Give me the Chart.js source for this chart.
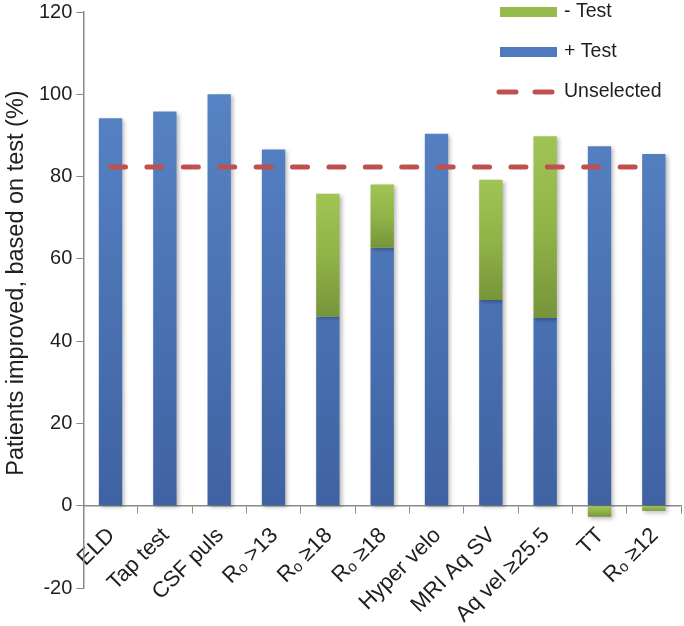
<!DOCTYPE html>
<html>
<head>
<meta charset="utf-8">
<script src="https://cdn.jsdelivr.net/npm/chart.js@4.4.0/dist/chart.umd.min.js"></script>
<style>
  body { margin: 0; background: #fff; }
  #wrap { width: 684px; height: 626px; }
</style>
</head>
<body>
<div id="wrap"><canvas id="chart"></canvas></div>
<script>
// values (percent of patients improved)
var categories = ['ELD', 'Tap test', 'CSF puls', 'Rₒ >13', 'Rₒ ≥18', 'Rₒ ≥18', 'Hyper velo', 'MRI Aq SV', 'Aq vel ≥25.5', 'TT', 'Rₒ ≥12'];
var plusTest = [94.2, 95.8, 100, 86.6, 46.0, 62.7, 90.4, 50.0, 45.6, 87.4, 85.5];
var minusTestFrom = [null, null, null, null, 46.0, 62.7, null, 50.0, 45.6, 0, 0];
var minusTestTo = [null, null, null, null, 75.8, 78.1, null, 79.2, 89.8, -2.7, -1.2];
var unselected = [82.3, 82.3, 82.3, 82.3, 82.3, 82.3, 82.3, 82.3, 82.3, 82.3, 82.3];
var yTitle = 'Patients improved, based on test (%)';

var minusTest = categories.map(function (c, i) {
  return minusTestFrom[i] === null ? null : [minusTestFrom[i], minusTestTo[i]];
});

var FONT = '"Liberation Sans", Arial, sans-serif';
var TEXT = '#1e1e1e';
var AXIS = '#8a8a8a';
var RED = 'rgb(192,80,77)';

function blueFill(c) {
  var chart = c.chart;
  if (!chart.chartArea) return 'rgb(79,123,190)';
  var y = chart.scales.y;
  var g = chart.ctx.createLinearGradient(0, y.getPixelForValue(100), 0, y.getPixelForValue(0));
  g.addColorStop(0, 'rgb(86,131,197)');
  g.addColorStop(1, 'rgb(63,98,162)');
  return g;
}

function greenFill(c) {
  var chart = c.chart;
  var raw = c.raw;
  if (!chart.chartArea || !raw) return 'rgb(146,180,74)';
  var y = chart.scales.y;
  var top = y.getPixelForValue(Math.max(raw[0], raw[1]));
  var bot = y.getPixelForValue(Math.min(raw[0], raw[1]));
  if (bot - top < 2) bot = top + 2;
  var g = chart.ctx.createLinearGradient(0, top, 0, bot);
  g.addColorStop(0, 'rgb(160,196,84)');
  g.addColorStop(0.5, 'rgb(145,180,73)');
  g.addColorStop(1, 'rgb(118,148,58)');
  return g;
}

// soft shadow under the bars only
var barShadow = {
  id: 'barShadow',
  beforeDatasetDraw: function (chart, args) {
    if (args.meta.type !== 'bar') return;
    var ctx = chart.ctx;
    ctx.save();
    ctx.shadowColor = 'rgba(0,0,0,0.28)';
    ctx.shadowBlur = 4;
    ctx.shadowOffsetX = 2;
    ctx.shadowOffsetY = 2;
  },
  afterDatasetDraw: function (chart, args) {
    if (args.meta.type !== 'bar') return;
    chart.ctx.restore();
  }
};

// y title sits a bit above the middle of the axis in the original
var sideTitle = {
  id: 'sideTitle',
  afterDraw: function (chart) {
    var ctx = chart.ctx;
    var a = chart.chartArea;
    ctx.save();
    ctx.translate(17, (a.top + a.bottom) / 2 - 17);
    ctx.rotate(-Math.PI / 2);
    ctx.font = '23.5px ' + FONT;
    ctx.fillStyle = TEXT;
    ctx.textAlign = 'center';
    ctx.textBaseline = 'middle';
    ctx.fillText(yTitle, 0, 0);
    ctx.restore();
  }
};

// legend drawn inside the plot, top right, like the original
var legendInside = {
  id: 'legendInside',
  afterDraw: function (chart) {
    var ctx = chart.ctx;
    var x = chart.chartArea.right - 181;
    var rows = [12, 52, 92];
    ctx.save();
    ctx.font = '19.5px ' + FONT;
    ctx.textBaseline = 'middle';
    ctx.textAlign = 'left';
    // - Test
    ctx.fillStyle = 'rgb(150,186,76)';
    ctx.fillRect(x, rows[0] - 5, 57, 10);
    // + Test
    ctx.fillStyle = 'rgb(79,123,190)';
    ctx.fillRect(x, rows[1] - 5, 57, 10);
    // Unselected
    ctx.strokeStyle = RED;
    ctx.lineWidth = 5;
    ctx.lineCap = 'round';
    ctx.beginPath();
    ctx.moveTo(x - 1, rows[2]); ctx.lineTo(x + 16, rows[2]);
    ctx.moveTo(x + 35, rows[2]); ctx.lineTo(x + 52, rows[2]);
    ctx.stroke();
    ctx.fillStyle = TEXT;
    ctx.fillText(chart.data.datasets[1].label, x + 64, rows[0]);
    ctx.fillText(chart.data.datasets[0].label, x + 64, rows[1]);
    ctx.fillText(chart.data.datasets[2].label, x + 64, rows[2]);
    ctx.restore();
  }
};

var ctx = document.getElementById('chart').getContext('2d');
var myChart = new Chart(ctx, {
  type: 'bar',
  data: {
    labels: categories,
    datasets: [
      {
        label: '+ Test',
        data: plusTest,
        backgroundColor: blueFill,
        grouped: false,
        order: 2,
        categoryPercentage: 1,
        barPercentage: 0.43
      },
      {
        label: '- Test',
        data: minusTest,
        backgroundColor: greenFill,
        grouped: false,
        order: 1,
        categoryPercentage: 1,
        barPercentage: 0.43
      },
      {
        type: 'line',
        label: 'Unselected',
        data: unselected,
        borderColor: RED,
        borderWidth: 5,
        borderDash: [15, 21.4],
        borderCapStyle: 'round',
        pointRadius: 0,
        fill: false,
        order: 0
      }
    ]
  },
  plugins: [barShadow, sideTitle, legendInside],
  options: {
    responsive: true,
    maintainAspectRatio: false,
    animation: false,
    layout: { padding: { top: 0, right: 3, bottom: 38, left: 35 } },
    plugins: {
      legend: { display: false },
      tooltip: { enabled: false }
    },
    scales: {
      x: {
        position: { y: 0 },
        grid: { offset: true, drawOnChartArea: false, drawTicks: true, tickLength: 7, color: AXIS },
        border: { color: AXIS, width: 1.5 },
        ticks: {
          autoSkip: false,
          minRotation: 45,
          maxRotation: 45,
          padding: 10,
          labelOffset: 1,
          color: TEXT,
          font: { family: FONT, size: 22 }
        }
      },
      y: {
        min: -20,
        max: 120,
        grid: { drawOnChartArea: false, drawTicks: true, tickLength: 7, color: AXIS },
        border: { color: AXIS, width: 1.5 },
        ticks: {
          stepSize: 20,
          padding: 4,
          color: TEXT,
          font: { family: FONT, size: 20, lineHeight: 0.8 }
        }
      }
    }
  }
});
</script>
</body>
</html>
